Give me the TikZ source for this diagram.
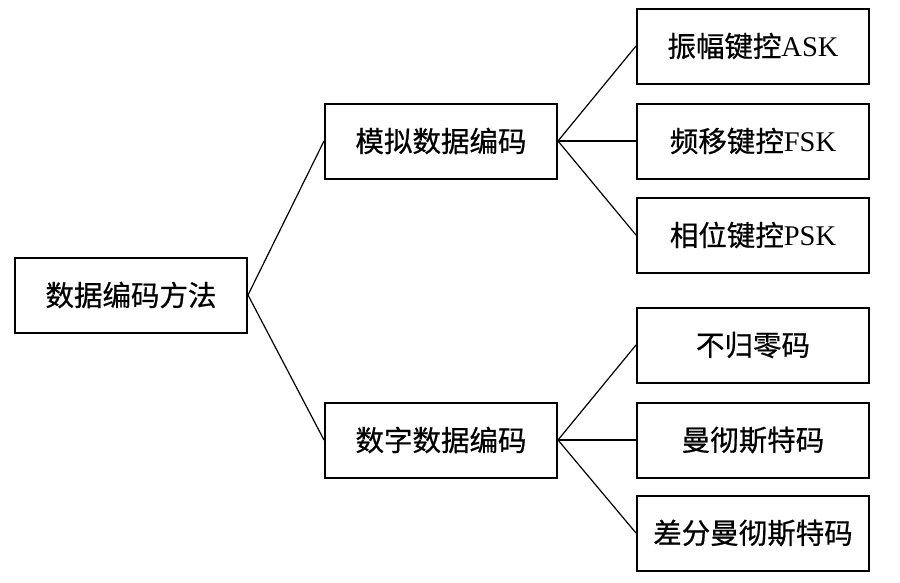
\documentclass[tikz,border=0pt]{standalone}
\usepackage{fontspec}
\setmainfont{Liberation Serif}
\newfontfamily\cjk[FakeBold=0.6]{Noto Sans CJK SC}
\usepackage{tikz}
\usetikzlibrary{positioning}

\begin{document}
\begin{tikzpicture}[x=1pt,y=-1pt,font=\fontsize{28.5}{32}\selectfont,
      box style/.style={rectangle,draw=black,line width=2pt,minimum
        width=232pt,minimum height=75pt,inner sep=0pt,align=center},
      link style/.style={line width=1.2pt}
      ]
      \useasboundingbox (0,0) rectangle (900,582);

      \node[box style] (method) at (131,295) {\cjk 数据编码方法};
      \node[box style] (analog) at (441,141) {\cjk 模拟数据编码};
      \node[box style] (digital) at (441,440) {\cjk 数字数据编码};

      \draw[link style] (method.east) -- (analog.west);
      \draw[link style] (method.east) -- (digital.west);

      \node[box style, right=78pt of analog] (fsk) {{\cjk 频移键控}FSK};
      \node[box style, above=18pt of fsk] (ask) {{\cjk 振幅键控}ASK};
      \node[box style, below=17pt of fsk] (psk) {{\cjk 相位键控}PSK};

      \draw[link style] (analog.east) -- (ask.west);
      \draw[link style] (analog.east) -- (fsk.west);
      \draw[link style] (analog.east) -- (psk.west);

      \node[box style, right=78pt of digital] (manch) {\cjk 曼彻斯特码};
      \node[box style, above=18pt of manch] (nrz) {\cjk 不归零码};
      \node[box style, below=16pt of manch] (diffmanch) {\cjk 差分曼彻斯特码};

      \draw[link style] (digital.east) -- (nrz.west);
      \draw[link style] (digital.east) -- (manch.west);
      \draw[link style] (digital.east) -- (diffmanch.west);

    \end{tikzpicture}
\end{document}
